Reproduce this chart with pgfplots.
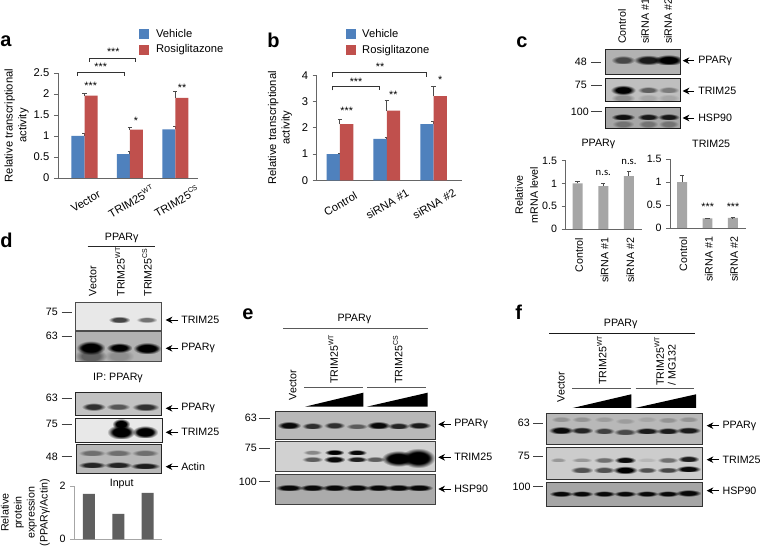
\documentclass[border=0pt]{standalone}
\usepackage{fontspec}
\setmainfont{Liberation Sans}
\newfontfamily\nsfont{Carlito}
\usepackage{pgfplots}
\pgfplotsset{compat=1.18}
\usetikzlibrary{arrows.meta,fadings}
\definecolor{barblue}{HTML}{4F81BD}
\definecolor{barred}{HTML}{C0504D}
\definecolor{bargray}{HTML}{A6A6A6}
\definecolor{bardark}{HTML}{5F5F5F}
\newcommand\fs{\fontsize{8}{9.75}\selectfont}
\newcommand\fa{\fontsize{8.4}{10.2}\selectfont}
\newcommand\sups[1]{\raisebox{.42em}{\fontsize{5.2}{5.2}\selectfont #1}}

% soft blot band
\pgfdeclareradialshading{bandshade}{\pgfpointorigin}{color(0bp)=(pgftransparent!0); color(14bp)=(pgftransparent!0); color(25bp)=(pgftransparent!100); color(50bp)=(pgftransparent!100)}
\pgfdeclarefading{bandfade}{\pgfuseshading{bandshade}}
\newcommand\band[5]{\fill[black,fill opacity=#5,path fading=bandfade,fit fading=true] ({#1-#3/2},{#2-#4/2}) rectangle ({#1+#3/2},{#2+#4/2});}
\newcommand\blot[5]{\begin{scope}\clip (#1) rectangle (#2);\fill[black!#3] (#1) rectangle (#2);#5\end{scope}\draw[black!#4,line width=.7pt] (#1) rectangle (#2);}
\newcommand\txt[3]{\node[anchor=west,inner sep=0,font=\fs] at (#1,#2) {#3};}
\newcommand\ctr[3]{\node[anchor=center,inner sep=0,font=\fs] at (#1,#2) {#3};}
\newcommand\rot[3]{\node[anchor=west,rotate=90,inner sep=0,font=\fs,align=center] at (#1,#2) {#3};}
\newcommand\mw[5]{\node[anchor=east,inner sep=0,font=\fs] at (#1,#2) {#5};\draw[black!75,line width=.6pt] (#3,#2) -- (#4,#2);}
\newcommand\arr[3]{\draw[line width=.6pt,-{Stealth[length=5pt,width=5pt]}] (#2,#3) -- (#1,#3);}
\newcommand\panel[3]{\node[anchor=base west,inner sep=0,font=\fontsize{15}{15}\selectfont\bfseries] at (#1,#2) {#3};}
\newcommand\stars[3]{\node[anchor=center,inner sep=0,font=\fs] at (#1,{#2+2}) {#3};}
\newcommand\brk[4]{\draw[black!80,line width=.6pt] (#1,#4) -- (#1,#3) -- (#2,#3) -- (#2,#4);}

\pgfplotsset{
  panel/.style={scale only axis,axis lines*=left,enlargelimits=false,ymin=0,clip=false,
    axis line style={black!60,line width=.7pt},
    x tick style={draw=none},y tick style={black!60,line width=.6pt},
    tick align=outside,major tick length=3pt,
    tick label style={font=\fs},/pgf/number format/assume math mode=true,
    xtick={0,1,2},
    ylabel style={font=\fs,align=center,anchor=center}},
  big/.style={tick label style={font=\fa},ylabel style={font=\fa},legend style={font=\fa}},
  sqleg/.style={legend image code/.code={\fill[##1] (0pt,-3.75pt) rectangle (7.5pt,3.75pt);\path (10.5pt,0pt);}},
  pairleg/.style={legend cell align=left,
    legend style={draw=none,fill=none,inner sep=0pt,row sep=0.3pt}},
  errs/.style={error bars/.cd,y dir=plus,y explicit,
    error bar style={black!70,line width=.7pt},
    error mark options={rotate=90,mark size=1.6pt,black!70,line width=.7pt}},
}

\begin{document}
\begin{tikzpicture}[x=0.75pt,y=-0.75pt]
\path[use as bounding box] (0,0) rectangle (760,548);
\fill[white] (0,0) rectangle (760,548);
\coordinate (pa) at (58,178);
\coordinate (pb) at (316.7,180.3);
\coordinate (pc) at (565.7,229);
\coordinate (pcc) at (670.3,228);
\coordinate (pd) at (74.3,539.3);

% ---------- a
\panel{0}{47}{a}
\begin{axis}[panel,big,pairleg,at={(pa)},anchor=south west,width=105pt,height=78.75pt,
  xmin=-0.584,xmax=2.5,ymax=2.5,ytick={0,0.5,1,1.5,2,2.5},
  xticklabels={Vector,TRIM25\sups{WT},TRIM25\sups{CS}},
  xticklabel style={rotate=30,anchor=center,yshift=-13pt,xshift=-6.5pt},
  ylabel={Relative transcriptional\\activity},
  ylabel style={at={(axis description cs:-0.296,0.5)}},
  legend style={at={(axis description cs:0.58,1.448)},anchor=north west}]
\addplot[ybar,sqleg,bar width=0.287,bar shift=-0.1435,fill=barblue,draw=none,errs] coordinates {(0,1.0) +- (0,0.05) (1,0.57) +- (0,0.06) (2,1.16) +- (0,0.06)};
\addplot[ybar,sqleg,bar width=0.287,bar shift=0.1435,fill=barred,draw=none,errs] coordinates {(0,1.96) +- (0,0.06) (1,1.15) +- (0,0.06) (2,1.91) +- (0,0.14)};
\addlegendentry{Vehicle}
\addlegendentry{Rosiglitazone}
\end{axis}
\brk{89.3}{135.7}{58}{62}
\stars{113.3}{50}{***}
\brk{77}{124.3}{72}{76}
\stars{100.7}{65}{***}
\stars{90.7}{84.3}{***}
\stars{136}{119}{*}
\stars{182}{85.7}{**}

% ---------- b
\panel{267}{48}{b}
\begin{axis}[panel,big,pairleg,at={(pb)},anchor=south west,width=108.75pt,height=78.75pt,
  xmin=-0.496,xmax=2.6,ymax=4,ytick={0,1,2,3,4},
  xticklabels={Control,siRNA \#1,siRNA \#2},
  xticklabel style={rotate=30,anchor=center,yshift=-13pt,xshift=-7pt},
  ylabel={Relative transcriptional\\activity},
  ylabel style={at={(axis description cs:-0.253,0.5)}},
  legend style={at={(axis description cs:0.197,1.468)},anchor=north west}]
\addplot[ybar,sqleg,bar width=0.285,bar shift=-0.1425,fill=barblue,draw=none,errs] coordinates {(0,1.0) +- (0,0.03) (1,1.58) +- (0,0.04) (2,2.14) +- (0,0.09)};
\addplot[ybar,sqleg,bar width=0.285,bar shift=0.1425,fill=barred,draw=none,errs] coordinates {(0,2.14) +- (0,0.18) (1,2.65) +- (0,0.38) (2,3.21) +- (0,0.37)};
\addlegendentry{Vehicle}
\addlegendentry{Rosiglitazone}
\end{axis}
\brk{332.7}{426.3}{72}{76.7}
\stars{380}{65}{**}
\brk{332.7}{379.3}{86.3}{90.3}
\stars{356}{79.5}{***}
\stars{346.7}{109.3}{***}
\stars{393.3}{93}{**}
\stars{440.3}{78.3}{*}

% ---------- c
\panel{516}{48}{c}
\rot{622}{44}{Control}
\rot{645}{44}{siRNA \#1}
\rot{668}{44}{siRNA \#2}
\blot{605.3,49}{680,74}{30}{85}{
  \band{623}{60}{24}{9}{.6}\band{648}{60}{29}{10}{.85}\band{668.5}{60}{30}{11}{1}}
\blot{605.3,78.3}{680,101.7}{25}{90}{
  \band{623}{98}{24}{9}{.25}\band{648}{98}{22}{8}{.12}\band{668.5}{98}{22}{8}{.12}
  \band{623}{90}{25}{10}{1}\band{648}{90}{21}{7}{.5}\band{668.5}{90}{21}{7}{.35}}
\blot{605.3,107.3}{680,128.3}{35}{90}{
  \band{623}{124}{22}{8}{.3}\band{648}{124}{20}{8}{.3}\band{668.5}{124}{20}{8}{.3}
  \band{623}{117}{24}{7}{.9}\band{648}{117}{22}{7}{.85}\band{668.5}{117}{22}{7}{.85}}
\mw{587}{62}{591}{600.7}{48}
\mw{587}{85}{591}{601.7}{75}
\mw{589}{111.7}{591}{601.7}{100}
\arr{682.7}{694}{60.7}\txt{698}{61}{PPARγ}
\arr{682.7}{694}{91}\txt{698}{91}{TRIM25}
\arr{682.7}{694}{118}\txt{698}{118}{HSP90}

\begin{axis}[panel,at={(pc)},anchor=south west,width=57pt,height=51.2pt,
  xmin=-0.465,xmax=2.5,ymax=1.5,ytick={0,0.5,1,1.5},
  xticklabels={Control,siRNA \#1,siRNA \#2},
  xticklabel style={rotate=90,anchor=east,yshift=-1pt},
  ylabel={Relative\\[1.5pt]mRNA level},
  ylabel style={at={(axis description cs:-0.516,0.5)}},
  title={PPARγ},title style={font=\fs,at={(axis description cs:0.43,1.127)},anchor=center,yshift=0pt,inner sep=0}]
\addplot[ybar,bar width=0.39,fill=bargray,draw=none,errs] coordinates {(0,1.0) +- (0,0.05) (1,0.94) +- (0,0.06) (2,1.16) +- (0,0.11)};
\end{axis}
\begin{axis}[panel,at={(pcc)},anchor=south west,width=56.8pt,height=51.5pt,
  xmin=-0.463,xmax=2.52,ymax=1.5,ytick={0,0.5,1,1.5},
  xticklabels={Control,siRNA \#1,siRNA \#2},
  xticklabel style={rotate=90,anchor=east,yshift=-1pt},
  title={TRIM25},title style={font=\fs,at={(axis description cs:0.54,1.11)},anchor=center,yshift=0pt,inner sep=0}]
\addplot[ybar,bar width=0.39,fill=bargray,draw=none,errs] coordinates {(0,1.0) +- (0,0.15) (1,0.21) +- (0,0.005) (2,0.22) +- (0,0.005)};
\end{axis}
\node[font=\nsfont\fs,inner sep=0] at (603.3,172.7) {n.s.};
\node[font=\nsfont\fs,inner sep=0] at (629,161.7) {n.s.};
\stars{707.7}{205}{***}
\stars{733}{204.5}{***}

% ---------- d
\panel{0}{248}{d}
\ctr{121.7}{237.7}{PPARγ}
\draw[black!85,line width=.7pt] (87.7,246.7) -- (155,246.7);
\rot{92.7}{296.7}{Vector}
\rot{120}{296.7}{TRIM25\sups{WT}}
\rot{147}{296.7}{TRIM25\sups{CS}}
\blot{75.7,302.3}{161.7,330}{9}{70}{
  \band{119.3}{319.7}{22}{7}{.7}\band{146.7}{319.7}{21}{6}{.5}}
\blot{75.7,331.7}{161.7,361.7}{30}{70}{
  \band{90.7}{356}{32}{16}{.45}\band{119}{356}{30}{14}{.2}
  \band{90.7}{347.7}{29}{14}{1}\band{90.7}{347.7}{24}{9}{1}
  \band{119.3}{347.7}{26}{10}{1}\band{147}{348.3}{28}{12}{1}\band{147}{348.3}{24}{8}{1}}
\mw{58}{312}{61.7}{71.7}{75}
\mw{58}{336}{61.7}{71.7}{63}
\arr{165.7}{178.3}{320}\txt{181}{320}{TRIM25}
\arr{165.7}{178.3}{348.3}\txt{181}{348.3}{PPARγ}
\ctr{118}{378}{IP: PPARγ}
\blot{75.7,392.3}{161.7,415.7}{24}{85}{
  \band{93.5}{406.7}{24}{8}{.75}\band{118}{406.7}{24}{7}{.55}\band{145.5}{407}{27}{8}{.75}}
\blot{75.7,418.3}{162.3,442.3}{9}{85}{
  \band{121}{424}{18}{11}{1}\band{121}{432}{28}{15}{1}\band{145}{432}{26}{13}{1}\band{121}{432}{21}{10}{1}\band{145}{432}{20}{9}{1}}
\blot{76.7,444.3}{161.7,473.3}{28}{85}{
  \band{92}{453}{27}{7}{.4}\band{118}{453}{27}{7}{.4}\band{145}{453}{27}{7}{.4}
  \band{92}{465}{28}{7}{.8}\band{118}{465}{28}{7}{.8}\band{145}{466}{30}{7}{.85}}
\mw{58}{398.3}{61.7}{71.7}{63}
\mw{58}{424.3}{61.7}{71.7}{75}
\mw{58}{456.7}{61.7}{71.7}{48}
\arr{165.7}{178.3}{408.3}\txt{181}{408.3}{PPARγ}
\arr{165.7}{178.3}{432.3}\txt{181}{432.3}{TRIM25}
\arr{165.7}{178.3}{466.7}\txt{181}{466.7}{Actin}
\ctr{121.7}{484}{Input}
\begin{axis}[panel,at={(pd)},anchor=south west,width=66pt,height=40pt,
  axis line style={black!35,line width=.7pt},y tick style={black!35},
  xmin=-0.5,xmax=2.5,ymax=2,ytick={0,2},xticklabels={},
  ylabel={Relative\\protein\\expression\\(PPARγ/Actin)},
  ylabel style={at={(axis description cs:-0.555,0.5)}}]
\addplot[ybar,bar width=0.41,fill=bardark,draw=none] coordinates {(0,1.7) (1,0.95) (2,1.74)};
\end{axis}

% ---------- e
\panel{242}{320}{e}
\ctr{354.3}{319.3}{PPARγ}
\draw[black!65,line width=.7pt] (283.3,328.3) -- (428.3,328.3);
\rot{292.7}{400.7}{Vector}
\rot{333.3}{384}{TRIM25\sups{WT}}
\rot{397.7}{384}{TRIM25\sups{CS}}
\draw[black!65,line width=.7pt] (304.3,387) -- (362.7,387);
\draw[black!65,line width=.7pt] (367.3,387) -- (425.7,387);
\fill (305,406.7) -- (363.3,406.7) -- (363.3,392.7) -- cycle;
\fill (366.7,406.7) -- (427.7,406.7) -- (427.7,392.7) -- cycle;
\blot{275,411}{435,439}{28}{80}{
  \band{289}{425.3}{24}{8}{.95}\band{312.3}{426}{21}{7}{.75}\band{334.3}{425.3}{21}{7}{.75}\band{356.7}{426.3}{22}{6}{.5}
  \band{378.3}{425.3}{24}{8}{.95}\band{398.3}{426}{22}{7}{.8}\band{419}{425.3}{24}{7}{.85}}
\blot{275,441.3}{435,471.3}{18}{75}{
  \band{312.3}{452.3}{19}{5}{.35}\band{334.3}{452.3}{20}{6}{1}\band{356.7}{452.5}{20}{6}{.95}
  \band{312.3}{459.3}{21}{6}{.55}\band{334.3}{459.3}{22}{7}{.95}\band{356.7}{459.3}{21}{6}{.85}
  \band{375}{459.3}{20}{6}{.55}\band{398.3}{458.5}{34}{16}{1}\band{398.3}{458.5}{26}{10}{1}\band{418}{458}{34}{20}{1}\band{418}{458}{27}{13}{1}}
\blot{275.7,474.3}{435,504.3}{33}{75}{
  \band{289}{487.7}{28}{7}{.95}\band{312.3}{487.7}{26}{7}{.95}\band{334.3}{487.7}{26}{7}{.95}\band{356.7}{487.7}{26}{7}{.95}
  \band{378.3}{487.7}{26}{7}{.95}\band{398.3}{487.7}{26}{7}{.95}\band{419}{487.7}{28}{7}{.95}}
\mw{257}{418.3}{259.3}{270}{63}
\mw{257}{448.3}{259.3}{270}{75}
\mw{257}{481.7}{259.3}{270}{100}
\arr{438.3}{450.7}{424.3}\txt{454}{424.3}{PPARγ}
\arr{438.3}{450.7}{457.3}\txt{454}{457.3}{TRIM25}
\arr{438.3}{450.7}{489}\txt{454}{489}{HSP90}

% ---------- f
\panel{515}{320}{f}
\ctr{620.7}{324.3}{PPARγ}
\draw[black!90,line width=.7pt] (549.3,333) -- (695.3,333);
\rot{561}{402.7}{Vector}
\rot{601.7}{385}{TRIM25\sups{WT}}
\rot{659.3}{386}{TRIM25\sups{WT}}
\rot{671.7}{386}{/ MG132}
\draw[black!65,line width=.7pt] (572.3,388.3) -- (631,388.3);
\draw[black!65,line width=.7pt] (635.7,388.3) -- (693.7,388.3);
\fill (572.7,408) -- (631.3,408) -- (631.3,394.3) -- cycle;
\fill (635,408) -- (696,408) -- (696,394.3) -- cycle;
\blot{546,413.3}{702.7,444.3}{28}{80}{
  \band{561}{419.3}{20}{6}{.2}\band{581.7}{419.3}{20}{6}{.2}\band{604}{419.3}{20}{6}{.15}\band{625}{421}{20}{6}{.15}
  \band{646.7}{419.3}{20}{6}{.1}\band{667.7}{420}{20}{6}{.2}\band{688.3}{419.3}{20}{6}{.2}
  \band{561}{430.3}{25}{8}{.95}\band{581.7}{430.3}{23}{7}{.8}\band{604}{431}{21}{7}{.65}\band{625}{432}{23}{7}{.6}
  \band{646.7}{431}{25}{7}{.85}\band{667.7}{431}{23}{7}{.85}\band{688.3}{430.3}{25}{7}{.85}}
\blot{546.7,447.7}{702.7,479}{20}{80}{
  \band{558}{460}{16}{5}{.25}\band{581.7}{460}{21}{5}{.25}\band{604}{460}{21}{6}{.45}\band{625}{460}{22}{7}{.95}
  \band{646.7}{460}{20}{5}{.1}\band{667.7}{460}{21}{6}{.45}\band{688.3}{459}{22}{7}{.85}
  \band{581.7}{470}{23}{7}{.6}\band{604}{470}{22}{7}{.6}\band{625}{470}{25}{8}{1}
  \band{646.7}{470}{20}{6}{.6}\band{667.7}{470}{22}{6}{.65}\band{688.3}{469}{25}{7}{.95}}
\blot{546.7,482}{702.7,506}{35}{80}{
  \band{561}{493.7}{24}{6}{.95}\band{581.7}{493.7}{23}{6}{.95}\band{604}{493.7}{23}{6}{.95}\band{625}{493.7}{23}{6}{.95}
  \band{646.7}{493.7}{23}{6}{.95}\band{667.7}{493.7}{23}{6}{.95}\band{688.3}{493}{26}{7}{.95}}
\mw{530}{423.3}{533.3}{543.3}{63}
\mw{530}{456}{533.3}{543.3}{75}
\mw{530.7}{486.7}{533.3}{543.3}{100}
\arr{706.7}{719}{425.7}\txt{722.3}{425.7}{PPARγ}
\arr{706.7}{719}{459.7}\txt{722.3}{459.7}{TRIM25}
\arr{706.7}{719}{490.7}\txt{722.3}{490.7}{HSP90}
\end{tikzpicture}
\end{document}
